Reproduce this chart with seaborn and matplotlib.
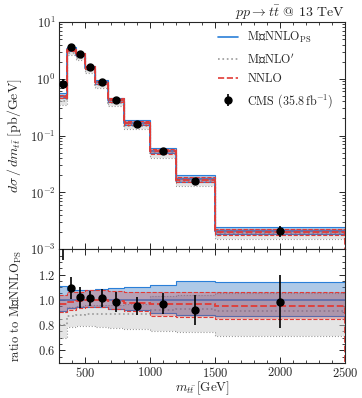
import numpy as np
import matplotlib
matplotlib.use("Agg")
import matplotlib.pyplot as plt
from matplotlib.ticker import MultipleLocator, FixedLocator, LogLocator, NullFormatter
import seaborn as sns

# binning in m_tt [GeV]
bin_edges = [300, 360, 430, 500, 580, 680, 800, 1000, 1200, 1500, 2500]

# MiNNLO_PS central value [pb/GeV] and band as ratio to central
minnlo = [0.50, 3.30, 2.65, 1.58, 0.86, 0.426, 0.168, 0.0546, 0.0174, 0.00213]
minnlo_up = [1.11, 1.08, 1.075, 1.08, 1.085, 1.095, 1.105, 1.12, 1.145, 1.14]
minnlo_dn = [0.91, 0.935, 0.945, 0.945, 0.94, 0.93, 0.92, 0.895, 0.88, 0.87]

# NNLO / MiNNLO_PS
nnlo_c = [0.97, 0.98, 0.99, 1.0, 1.0, 0.99, 0.975, 0.965, 0.965, 0.952]
nnlo_up = [1.04, 1.06, 1.065, 1.075, 1.075, 1.07, 1.065, 1.06, 1.06, 1.06]
nnlo_dn = [0.90, 0.92, 0.935, 0.94, 0.94, 0.93, 0.915, 0.875, 0.86, 0.845]

# MiNLO' / MiNNLO_PS
minlo_c = [0.80, 0.87, 0.88, 0.885, 0.885, 0.885, 0.885, 0.92, 0.925, 0.915]
minlo_up = [0.90, 0.94, 0.95, 0.955, 0.955, 0.96, 0.97, 1.03, 1.04, 1.05]
minlo_dn = [0.70, 0.785, 0.79, 0.79, 0.785, 0.78, 0.765, 0.75, 0.745, 0.71]

# CMS data
cms_x = [330, 395, 465, 540, 630, 740, 900, 1100, 1350, 2000]
cms_val = [0.82, 3.6, 2.7, 1.6, 0.87, 0.42, 0.16, 0.053, 0.016, 0.0021]
cms_rel_err = [0.20, 0.08, 0.08, 0.06, 0.07, 0.08, 0.075, 0.085, 0.13, 0.21]

ratio_ticks = [0.6, 0.8, 1.0, 1.2]

c_blue = "#2a7fd8"
c_red = "#e23b36"
c_gray = "#9a9a9a"

sns.set_theme(style="ticks")
plt.rcParams["font.family"] = ["cmr10", "DejaVu Serif"]
plt.rcParams["mathtext.fontset"] = "cm"
plt.rcParams["axes.formatter.use_mathtext"] = True
plt.rcParams["font.size"] = 8.5
plt.rcParams["axes.unicode_minus"] = False

edges = np.array(bin_edges)
mn = np.array(minnlo)
ratio_sets = {
    "minlo": (np.array(minlo_c), np.array(minlo_up), np.array(minlo_dn)),
    "minnlo": (np.ones(len(mn)), np.array(minnlo_up), np.array(minnlo_dn)),
    "nnlo": (np.array(nnlo_c), np.array(nnlo_up), np.array(nnlo_dn)),
}
styles = {
    "minlo": dict(color=c_gray, ls=":", fill="#cdcdcd", alpha=0.5),
    "minnlo": dict(color=c_blue, ls="-", fill="#3f7fc8", alpha=0.42),
    "nnlo": dict(color=c_red, ls="--", fill="#d23a3a", alpha=0.28),
}

fig = plt.figure(figsize=(3.62, 3.98), dpi=100)
gs = fig.add_gridspec(2, 1, height_ratios=[2, 1], hspace=0,
                      left=0.163, right=0.953, top=0.945, bottom=0.088)
ax = fig.add_subplot(gs[0])
axr = fig.add_subplot(gs[1], sharex=ax)

for key in ["minlo", "minnlo", "nnlo"]:
    c, up, dn = ratio_sets[key]
    st = styles[key]
    for a, scale in [(ax, mn), (axr, np.ones(len(mn)))]:
        a.stairs(up * scale, edges, baseline=dn * scale, fill=True,
                 color=st["fill"], alpha=st["alpha"], lw=0)
        a.stairs(up * scale, edges, baseline=None, color=st["color"], ls=st["ls"], lw=0.8)
        a.stairs(dn * scale, edges, baseline=None, color=st["color"], ls=st["ls"], lw=0.8)
        if key == "nnlo":
            a.stairs(c * scale, edges, baseline=0 if a is axr else 1e-6,
                     color=st["color"], ls=st["ls"], lw=1.3)
        else:
            a.stairs(c * scale, edges, baseline=None, color=st["color"], ls=st["ls"], lw=1.2)

# legend proxies
ax.plot([], [], color=c_blue, ls="-", lw=1.2, label=r"MɪNNLO$_{\rm PS}$")
ax.plot([], [], color=c_gray, ls=":", lw=1.2, label=r"MɪNLO$^{\prime}$")
ax.plot([], [], color=c_red, ls="--", lw=1.2, label="NNLO")

cx = np.array(cms_x)
cv = np.array(cms_val)
ce = cv * np.array(cms_rel_err)
ax.errorbar(cx, cv, yerr=ce, fmt="o", color="black", ms=5, elinewidth=1.2,
            capsize=0, label=r"CMS (35.8$\,$fb$^{-1}$)", zorder=10)
axr.errorbar(cx, cv / mn, yerr=ce / mn, fmt="o", color="black", ms=5,
             elinewidth=1.2, capsize=0, zorder=10)

ax.set_yscale("log")
ax.set_ylim(1e-3, 1e1)
ax.set_xlim(300, 2500)
ax.yaxis.set_major_locator(LogLocator(base=10, numticks=10))
ax.yaxis.set_minor_locator(LogLocator(base=10, subs=np.arange(2, 10), numticks=20))
ax.yaxis.set_minor_formatter(NullFormatter())
ax.set_ylabel(r"$d\sigma\,/\,dm_{t\bar{t}}\;[\mathrm{pb/GeV}]$", fontsize=10)
plt.setp(ax.get_xticklabels(), visible=False)

axr.set_ylim(0.5, 1.4)
axr.yaxis.set_major_locator(FixedLocator(ratio_ticks))
axr.yaxis.set_minor_locator(MultipleLocator(0.05))
axr.xaxis.set_major_locator(MultipleLocator(500))
axr.xaxis.set_minor_locator(MultipleLocator(100))
axr.set_ylabel(r"ratio to MɪNNLO$_{\rm PS}$", fontsize=9)
axr.set_xlabel(r"$m_{t\bar{t}}\,[\mathrm{GeV}]$", fontsize=9.5, labelpad=-1)

for a in (ax, axr):
    a.tick_params(which="both", direction="in", top=True, right=True, labelsize=9, pad=2.5)
    a.tick_params(which="major", length=4, width=0.7)
    a.tick_params(which="minor", length=2, width=0.6)
    for s in a.spines.values():
        s.set_linewidth(0.8)

fig.align_ylabels([ax, axr])

ax.legend(loc="upper right", frameon=False, fontsize=8.7, handlelength=1.6,
          borderaxespad=0.3, labelspacing=0.55, bbox_to_anchor=(0.99, 1.0))
ax.set_title(r"$pp\rightarrow t\bar{t}$ @ 13 TeV", loc="right", fontsize=10, pad=3)

fig.savefig("out.png", dpi=100)
